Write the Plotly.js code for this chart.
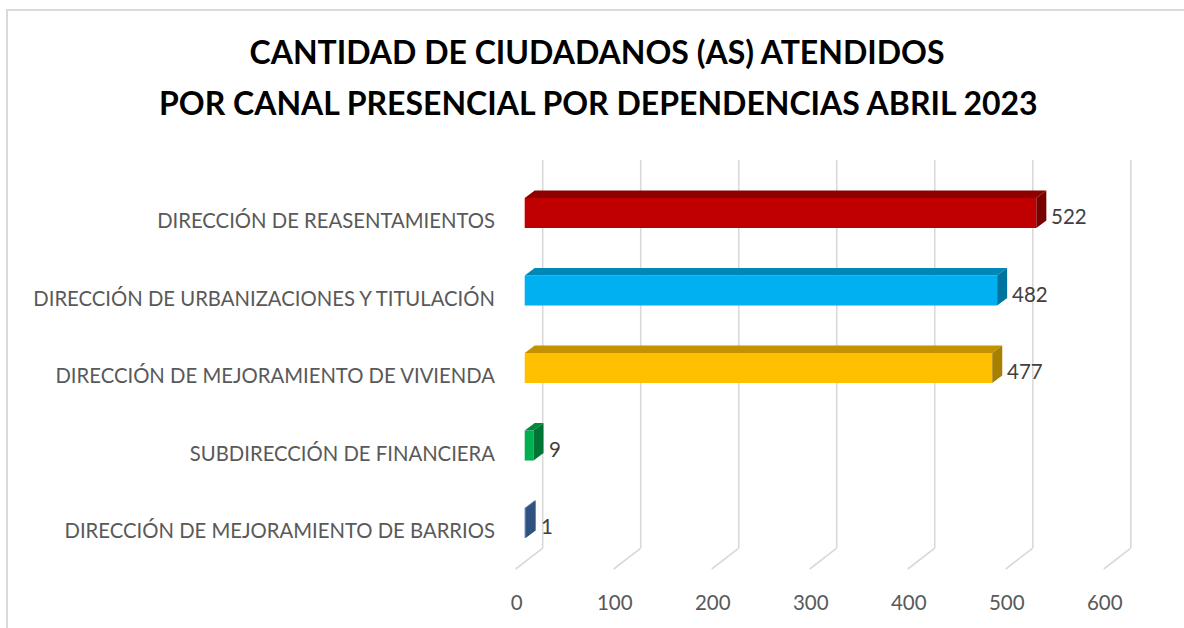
<!DOCTYPE html>
<html>
<head>
<meta charset="utf-8">
<script src="https://cdn.plot.ly/plotly-3.0.1.min.js"></script>
<style>
  html, body { margin: 0; padding: 0; overflow: hidden; background: #fff; }
  #chart { width: 1184px; height: 628px; }
  #frame { position: absolute; left: 6px; top: 9px; width: 1300px; height: 800px;
           border: 2px solid #d9d9d9; pointer-events: none; box-sizing: border-box; }
</style>
</head>
<body>
<div id="chart"></div>
<div id="frame"></div>
<script>
// ---- data ----
var categories = [
  "DIRECCIÓN DE REASENTAMIENTOS",
  "DIRECCIÓN DE URBANIZACIONES Y TITULACIÓN",
  "DIRECCIÓN DE MEJORAMIENTO DE VIVIENDA",
  "SUBDIRECCIÓN DE FINANCIERA",
  "DIRECCIÓN DE MEJORAMIENTO DE BARRIOS"
];
var values = [522, 482, 477, 9, 1];
var tickValues = [0, 100, 200, 300, 400, 500, 600];
var titleLines = ["CANTIDAD DE CIUDADANOS (AS) ATENDIDOS", "POR CANAL PRESENCIAL POR DEPENDENCIAS ABRIL 2023"];

// ---- styles ----
var frontColors = ["#C00000", "#00B0F0", "#FFC000", "#00B050", "#2F5597"];
var topColors   = ["#8E0000", "#0087B8", "#C49200", "#008A3E", "#24467C"];
var sideColors  = ["#780000", "#00739E", "#A88000", "#007434", "#2F5283"];

var W = 1184, H = 628;
var xRange = [-15, 640];
var px0 = 525, ppu = 0.98;               // pixel of 0, pixels per unit
var plotL = px0 + ppu * xRange[0];
var plotR = px0 + ppu * xRange[1];
var yTopIdx = -0.75, yBotIdx = 4.8;
var py0 = 213, ppc = 77.5;
var plotT = py0 + ppc * yTopIdx;
var plotB = py0 + ppc * yBotIdx;
function paperY(py) { return (plotB - py) / (plotB - plotT); }

var idx = categories.map(function (_, i) { return i; });
var halfH = 15, depthX = 10, depthY = 7.5;
var titleFont = {family: "Lato, sans-serif", size: 32, color: "#000", weight: "bold"};

var shapes = [];
// gridlines (back wall + floor diagonal)
tickValues.forEach(function (t) {
  shapes.push({type: "line", layer: "below", xref: "x", yref: "paper",
    xsizemode: "pixel", xanchor: t, x0: 18, x1: 18,
    y0: paperY(548), y1: paperY(160),
    line: {color: "#D9D9D9", width: 1.6}});
  shapes.push({type: "line", layer: "below", xref: "x", yref: "paper",
    xsizemode: "pixel", xanchor: t, x0: 18, x1: -9,
    y0: paperY(548), y1: paperY(569),
    line: {color: "#D9D9D9", width: 1.6}});
});
// 3D faces of bars
var dxData = depthX / ppu;
values.forEach(function (v, i) {
  shapes.push({type: "path", layer: "above", xref: "x", yref: "y",
    ysizemode: "pixel", yanchor: i,
    path: "M 0," + halfH + " L " + v + "," + halfH + " L " + (v + dxData) + "," + (halfH + depthY) +
          " L " + dxData + "," + (halfH + depthY) + " Z",
    fillcolor: topColors[i], line: {width: 0}});
  shapes.push({type: "path", layer: "above", xref: "x", yref: "y",
    xsizemode: "pixel", xanchor: v, ysizemode: "pixel", yanchor: i,
    path: "M 0," + (-halfH) + " L " + depthX + "," + (-halfH + depthY) + " L " + depthX + "," + (halfH + depthY) +
          " L 0," + halfH + " Z",
    fillcolor: sideColors[i], line: {width: 0}});
});

var annotations = values.map(function (v, i) {
  return {x: v, y: i, xref: "x", yref: "y", text: String(v), showarrow: false,
    xanchor: "left", xshift: 13, yshift: -3,
    font: {family: "Lato, sans-serif", size: 20.5, color: "#404040"}};
});
// second title line
annotations.push({xref: "paper", yref: "paper", x: (599 - plotL) / (plotR - plotL), y: paperY(102),
  xanchor: "center", yanchor: "middle", showarrow: false, text: titleLines[1], font: titleFont});

var trace = {
  type: "bar", orientation: "h",
  x: values, y: idx,
  width: 2 * halfH / ppc,
  marker: {color: frontColors, line: {width: 0}},
  hoverinfo: "x+y"
};

var layout = {
  width: W, height: H,
  paper_bgcolor: "rgba(0,0,0,0)", plot_bgcolor: "rgba(0,0,0,0)",
  margin: {l: plotL, r: W - plotR, t: plotT, b: H - plotB, pad: 0},
  showlegend: false,
  title: {text: titleLines[0], x: 597 / W, xanchor: "center",
    yref: "container", y: 1 - 53 / H, yanchor: "middle",
    font: titleFont},
  xaxis: {range: xRange, tickvals: tickValues, showgrid: false, zeroline: false, showline: false,
    ticks: "", ticklabelshift: -8, ticklabelstandoff: 3,
    tickfont: {family: "Lato, sans-serif", size: 20.5, color: "#595959"}},
  yaxis: {range: [yBotIdx, yTopIdx], tickvals: idx, ticktext: categories,
    showgrid: false, zeroline: false, showline: false, ticks: "",
    ticklabelstandoff: 14, ticklabelshift: -8,
    tickfont: {family: "Lato, sans-serif", size: 20.3, color: "#595959"}},
  shapes: shapes,
  annotations: annotations
};

Plotly.newPlot("chart", [trace], layout, {displayModeBar: false, staticPlot: true});
</script>
</body>
</html>
